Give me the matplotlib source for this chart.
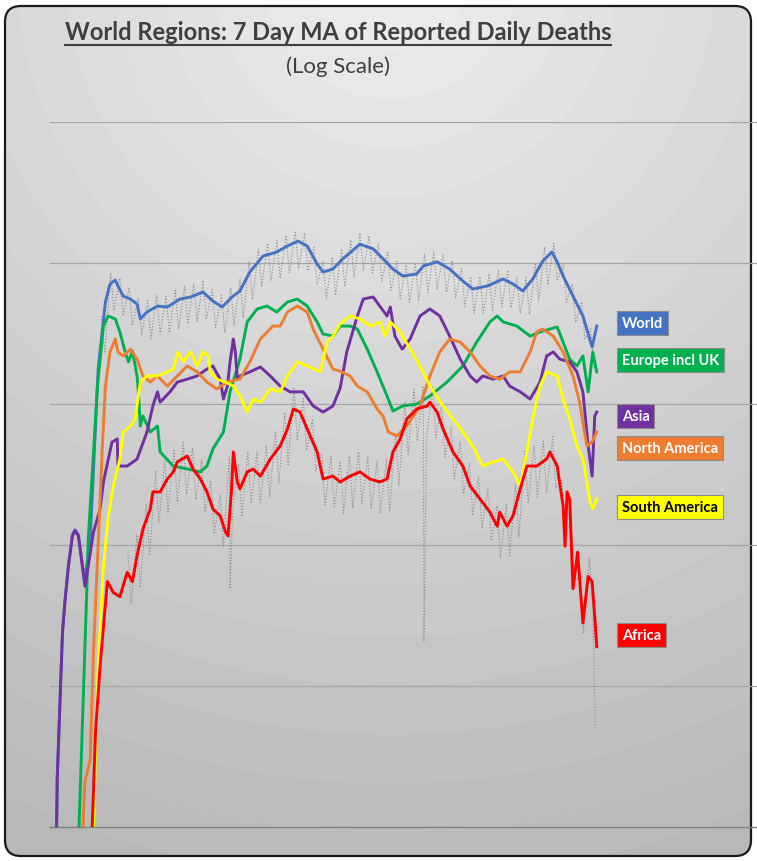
import numpy as np
import matplotlib.pyplot as plt
from matplotlib.patches import FancyBboxPatch
from matplotlib.lines import Line2D

START = np.datetime64('2020-01-22')

# days since 22 Jan 2020 and 7-day MA of daily deaths
world_days = [2, 3, 8, 11, 15, 20, 26, 30, 35, 41, 45, 53, 65, 76, 83, 91, 95, 103, 114, 124, 129,
              139, 155, 170, 189, 205, 224, 239, 253, 268, 280, 295, 315, 336, 352, 368, 382, 397,
              406, 421, 436, 462, 482, 497, 512, 527, 548, 558, 579, 598, 618, 633, 655, 679, 694,
              709, 724, 739, 753, 761, 770, 785, 800, 814, 821]
world_vals = [1, 2.3, 10, 25, 42, 72, 118, 128, 118, 73, 56, 110, 1770, 5290, 7100, 7570, 6870,
              5830, 5550, 5120, 4010, 4490, 4950, 4870, 5550, 5740, 6220, 5370, 4870, 5740, 6330,
              8630, 11200, 11970, 13200, 14300, 13200, 9840, 8630, 9060, 10700, 13600, 12600,
              10700, 9060, 8090, 8350, 9520, 10200, 9060, 7450, 6540, 6870, 7700, 7100, 6330,
              7700, 10300, 11970, 10200, 8090, 5830, 4210, 2540, 3570]

europe_days = [36, 48, 50, 64, 73, 80, 91, 98, 106, 111, 117, 124, 126, 129, 133, 144, 155, 159,
               179, 200, 220, 230, 239, 255, 265, 280, 291, 306, 321, 336, 352, 367, 382, 397, 406,
               421, 432, 447, 458, 473, 488, 503, 512, 527, 548, 568, 594, 618, 639, 659, 670, 679,
               700, 720, 735, 750, 761, 770, 780, 791, 800, 808, 815, 821]
europe_vals = [1, 51, 110, 1340, 3570, 4210, 4010, 3240, 2340, 1990, 2380, 1580, 1220, 698, 822,
               633, 698, 457, 363, 346, 330, 363, 480, 633, 1220, 2080, 3820, 4720, 4950, 4490,
               5290, 5550, 4950, 3820, 3140, 3030, 3570, 3570, 3400, 2450, 1690, 1140, 892, 968,
               1000, 1140, 1430, 1860, 2750, 3820, 4210, 3820, 3570, 3030, 3240, 3400, 3520, 2750,
               2080, 1860, 2190, 1220, 2340, 1690]

asia_days = [2, 3, 8, 11, 15, 20, 26, 30, 35, 41, 45, 50, 58, 68, 73, 86, 94, 95, 109, 124, 139,
             148, 155, 159, 174, 185, 200, 215, 230, 239, 250, 255, 261, 265, 270, 273, 276, 280,
             295, 311, 326, 341, 356, 376, 391, 406, 421, 432, 442, 458, 467, 482, 492, 503, 508,
             515, 526, 538, 553, 568, 583, 598, 614, 629, 639, 648, 664, 679, 689, 705, 720, 735,
             745, 755, 765, 780, 791, 800, 808, 814, 818, 821]
asia_vals = [1, 2.2, 10, 24, 41, 71, 116, 126, 116, 71, 51, 71, 124, 180, 280, 537, 565, 363, 363,
             407, 633, 968, 1220, 1030, 1220, 1430, 1500, 1580, 1770, 1860, 1500, 1085, 1340, 1990,
             2890, 2340, 1500, 1580, 1690, 1830, 1580, 1340, 1220, 1220, 968, 877, 968, 1300, 2340,
             4210, 5550, 5740, 4950, 4210, 4870, 3030, 2450, 2890, 4210, 4720, 4210, 3030, 2080,
             1580, 1430, 1580, 1500, 1580, 1340, 1220, 1085, 1430, 2190, 2340, 2080, 1990, 1690,
             1220, 504, 308, 822, 877]

namerica_days = [42, 45, 53, 58, 68, 71, 76, 83, 91, 95, 103, 114, 124, 133, 144, 155, 170, 185,
                 200, 215, 230, 245, 261, 280, 295, 311, 330, 341, 352, 367, 382, 391, 406, 421,
                 432, 447, 458, 473, 488, 497, 505, 518, 533, 553, 568, 583, 598, 614, 629, 644,
                 659, 674, 689, 705, 720, 730, 739, 755, 770, 785, 795, 806, 814, 821]
namerica_vals = [1, 2.1, 3, 18, 212, 457, 1340, 2340, 2890, 2340, 2190, 2450, 2080, 1580, 1430,
                 1580, 1340, 1580, 1860, 1690, 1430, 1280, 1430, 1500, 1990, 2890, 3570, 3570,
                 4490, 4950, 4490, 3400, 2450, 1770, 1710, 1580, 1340, 1220, 922, 822, 633, 593,
                 698, 968, 1580, 2340, 2890, 2750, 2340, 1860, 1580, 1500, 1690, 1690, 2340, 3240,
                 3400, 3030, 2340, 1580, 1030, 504, 537, 633]

samerica_days = [58, 65, 73, 80, 88, 98, 103, 114, 121, 126, 129, 139, 155, 170, 179, 186, 194,
                 205, 215, 224, 232, 235, 245, 258, 270, 280, 291, 300, 311, 326, 341, 352, 367,
                 382, 402, 412, 421, 432, 447, 462, 477, 492, 500, 508, 523, 538, 553, 568, 588,
                 603, 618, 633, 648, 664, 679, 694, 705, 715, 724, 735, 745, 761, 770, 780, 791,
                 800, 811, 815, 821]
samerica_vals = [1, 14, 71, 153, 262, 407, 633, 698, 783, 1140, 1430, 1580, 1580, 1690, 1770, 2340,
                 1990, 2340, 1860, 2340, 2190, 1690, 1500, 1430, 1340, 1140, 877, 1085, 1030, 1280,
                 1220, 1580, 1990, 1860, 1690, 2750, 3030, 3700, 4210, 4010, 3570, 3820, 3030,
                 3820, 3240, 2450, 1860, 1340, 968, 783, 633, 504, 363, 388, 407, 330, 262, 457,
                 783, 1340, 1690, 1580, 1085, 783, 504, 407, 202, 180, 212]

africa_days = [56, 61, 68, 79, 88, 98, 109, 117, 124, 133, 144, 148, 159, 170, 179, 185, 200, 209,
               220, 230, 239, 250, 258, 262, 267, 270, 276, 280, 291, 300, 311, 326, 341, 352, 361,
               371, 382, 397, 406, 421, 432, 447, 462, 477, 492, 503, 512, 523, 533, 548, 564, 568,
               579, 588, 603, 618, 629, 644, 659, 670, 674, 685, 694, 705, 715, 730, 745, 750, 761,
               770, 773, 776, 780, 785, 792, 800, 808, 814, 818, 821]
africa_vals = [1, 4.7, 14, 55, 46, 43, 64, 55, 84, 130, 180, 238, 238, 294, 330, 388, 428, 346,
               294, 238, 180, 161, 124, 116, 238, 457, 280, 250, 330, 346, 308, 407, 504, 665, 922,
               877, 665, 457, 294, 308, 280, 308, 330, 294, 280, 294, 457, 565, 783, 922, 968, 1030,
               877, 665, 457, 363, 262, 212, 171, 136, 171, 136, 161, 250, 363, 363, 407, 457, 363,
               189, 98, 238, 212, 49, 89, 28, 60, 55, 31, 19]

# raw daily reports (grey dotted spikes behind the averages)
world_daily_days = [70, 75, 84, 89, 98, 103, 112, 117, 126, 131, 140, 145, 154, 159, 168, 173,
                    182, 187, 196, 201, 210, 215, 224, 229, 238, 243, 252, 257, 266, 271, 280, 285,
                    294, 299, 308, 313, 322, 327, 336, 341, 350, 355, 364, 369, 378, 383, 392, 397,
                    406, 411, 420, 425, 434, 439, 448, 453, 462, 467, 476, 481, 490, 495, 504, 509,
                    518, 523, 532, 537, 546, 551, 560, 565, 574, 579, 588, 593, 602, 607, 616, 621,
                    630, 635, 644, 649, 658, 663, 672, 677, 686, 691, 700, 705, 714, 719, 728, 733,
                    742, 747, 756, 761, 770, 775, 784, 789, 798, 803, 812, 817]
world_daily_vals = [4200, 2300, 8500, 4600, 7800, 4200, 6700, 3600, 5600, 3100, 5400, 2900, 5900,
                    3200, 5800, 3200, 6400, 3400, 6800, 3700, 7100, 3800, 7500, 4000, 6500, 3500,
                    5900, 3200, 6700, 3600, 7600, 4100, 10200, 5500, 12500, 6800, 13800, 7500,
                    14400, 7800, 15700, 8500, 16800, 9100, 16300, 8800, 13000, 7000, 10400, 5600,
                    10800, 5900, 12600, 6800, 14600, 7900, 16300, 8800, 15600, 8500, 13700, 7400,
                    11900, 6400, 10300, 5600, 9700, 5300, 10000, 5400, 11500, 6200, 12000, 6500,
                    11500, 6200, 10400, 5700, 9100, 4900, 8000, 4400, 8000, 4400, 8400, 4600, 9000,
                    4900, 8900, 4800, 8000, 4400, 7900, 4300, 10000, 5400, 13000, 7000, 13800, 7500,
                    9700, 5300, 7100, 3800, 5300, 2900, 3400, 1800]

africa_daily_days = [110, 115, 124, 129, 138, 143, 152, 157, 166, 171, 180, 185, 194, 199, 208,
                     213, 222, 227, 236, 241, 250, 255, 264, 265, 269, 278, 283, 292, 297, 306,
                     311, 320, 325, 334, 339, 348, 353, 362, 367, 376, 381, 390, 395, 404, 409,
                     418, 423, 432, 437, 446, 451, 460, 465, 474, 479, 488, 493, 502, 507, 516,
                     521, 530, 535, 544, 549, 558, 559, 563, 572, 577, 586, 591, 600, 605, 614,
                     619, 628, 633, 642, 647, 656, 661, 670, 675, 684, 689, 698, 703, 712, 717,
                     726, 731, 740, 745, 754, 759, 768, 773, 782, 787, 796, 801, 810, 815, 819]
africa_daily_vals = [90, 38, 118, 50, 196, 84, 333, 143, 392, 168, 469, 201, 532, 228, 490, 210,
                     399, 171, 280, 120, 225, 97, 420, 49, 180, 371, 159, 462, 198, 455, 195, 511,
                     219, 637, 273, 868, 372, 1290, 552, 1090, 468, 784, 336, 448, 192, 427, 183,
                     392, 168, 427, 183, 459, 197, 420, 180, 396, 170, 409, 175, 616, 264, 1040,
                     444, 1270, 546, 1340, 21, 576, 1340, 576, 980, 420, 686, 294, 539, 231, 378,
                     162, 305, 131, 249, 107, 190, 82, 196, 84, 266, 114, 462, 198, 508, 218, 546,
                     234, 588, 252, 294, 126, 140, 60, 56, 24, 81, 35, 5]

series = [
    ('World', world_days, world_vals, '#4472C4', 'white'),
    ('Europe incl UK', europe_days, europe_vals, '#00B050', 'white'),
    ('Asia', asia_days, asia_vals, '#7030A0', 'white'),
    ('North America', namerica_days, namerica_vals, '#ED7D31', 'white'),
    ('South America', samerica_days, samerica_vals, '#FFFF00', 'black'),
    ('Africa', africa_days, africa_vals, '#FF0000', 'white'),
]
label_y = [324, 361, 417, 449, 508, 636]  # pixel rows of the right-hand labels


def to_dates(days):
    return START + np.array(days).astype('timedelta64[D]')


W, H = 757, 862
fig = plt.figure(figsize=(W / 100, H / 100), dpi=100)
fig.patch.set_facecolor('white')

# background: radial gradient inside a rounded frame
bg = fig.add_axes([0, 0, 1, 1])
bg.set_xlim(0, W)
bg.set_ylim(H, 0)
bg.axis('off')
yy, xx = np.mgrid[0:H, 0:W]
r = np.hypot(xx - 390, yy + 30)
shade = 0.935 - 0.2 * np.clip(r / 880, 0, 1.2)
shade = np.round(shade * 90) / 90
img = bg.imshow(np.dstack([shade] * 3), extent=[0, W, H, 0], zorder=0)
frame = FancyBboxPatch((5, 7), 746, 850, boxstyle='round,pad=0,rounding_size=16',
                       fc='none', ec='#1a1a1a', lw=1.6, zorder=5)
bg.add_patch(frame)
img.set_clip_path(frame)

ax = fig.add_axes([50 / W, 1 - 828 / H, 1 - 50 / W, (828 - 123) / H])
ax.patch.set_alpha(0)
ax.set_yscale('log')
ax.set_ylim(1, 1e5)
ax.set_xlim(START + np.timedelta64(-8, 'D'), START + np.timedelta64(1064, 'D'))
for s in ['top', 'right', 'left']:
    ax.spines[s].set_visible(False)
ax.spines['bottom'].set_color('#7f7f7f')
ax.spines['bottom'].set_linewidth(1.0)
ax.set_xticks([])
ax.set_yticks([])
ax.minorticks_off()
for v in [10, 100, 1000, 1e4, 1e5]:
    ax.axhline(v, color='#a6a6a6', lw=0.9, zorder=1)

# grey daily values
ax.plot(to_dates(world_daily_days), world_daily_vals, color='#8c8c8c', lw=0.8, ls=':', zorder=2)
ax.plot(to_dates(africa_daily_days), africa_daily_vals, color='#8c8c8c', lw=0.8, ls=':', zorder=2)

for name, days, vals, col, tcol in series:
    ax.plot(to_dates(days), vals, color=col, lw=2.1, solid_joinstyle='round', zorder=3)

for (name, days, vals, col, tcol), ly in zip(series, label_y):
    fig.text(622 / W, 1 - ly / H, name, color=tcol, fontsize=10.5, fontweight='bold',
             family='Lato', ha='left', va='center',
             bbox=dict(boxstyle='square,pad=0.32', fc=col, ec='#8c8c8c', lw=0.8))

t = fig.text(338 / W, 1 - 33 / H, 'World Regions: 7 Day MA of Reported Daily Deaths',
             fontsize=17, fontweight='bold', family='Lato', color='#3f3f3f',
             ha='center', va='center')
fig.text(338 / W, 1 - 67 / H, '(Log Scale)', fontsize=16, family='Lato', color='#3f3f3f',
         ha='center', va='center')
fig.canvas.draw()
bb = t.get_window_extent(fig.canvas.get_renderer()).transformed(fig.transFigure.inverted())
fig.add_artist(Line2D([bb.x0, bb.x1], [bb.y0 - 0.002, bb.y0 - 0.002], color='#3f3f3f', lw=1.5))

fig.savefig('out.png', dpi=100)
